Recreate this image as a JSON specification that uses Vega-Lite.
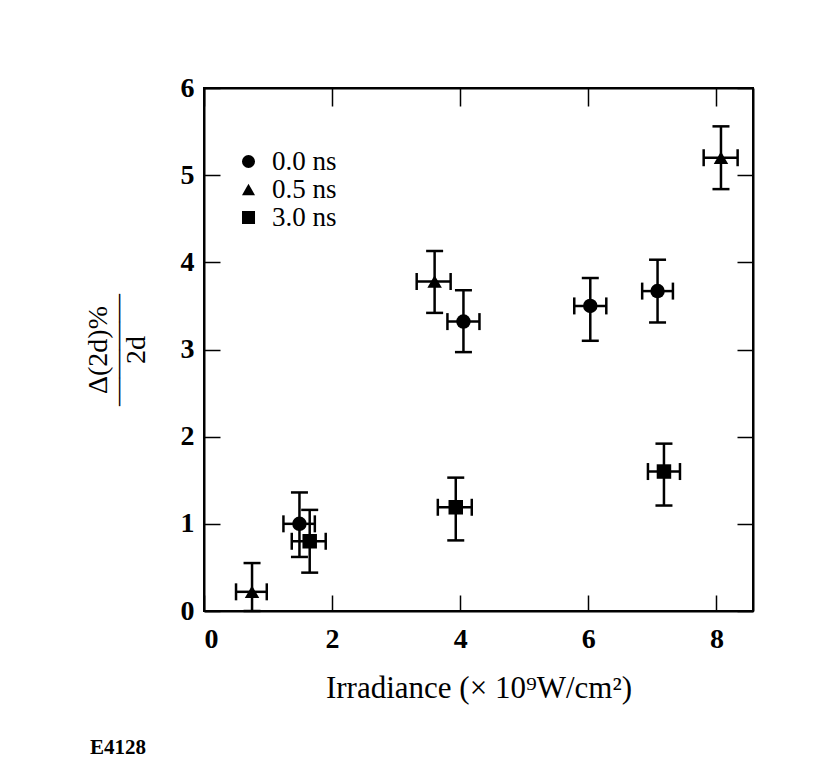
{
  "$schema": "https://vega.github.io/schema/vega-lite/v6.json",
  "width": 549,
  "height": 523,
  "autosize": {"type": "none"},
  "padding": {"left": 204, "top": 88, "right": 75, "bottom": 172},
  "background": "white",
  "title": {
    "text": "E4128",
    "orient": "bottom",
    "anchor": "start",
    "frame": "bounds",
    "font": "Liberation Serif",
    "fontSize": 21,
    "fontWeight": "bold",
    "color": "black",
    "offset": 34,
    "dx": 6
  },
  "config": {
    "view": {"stroke": "black", "strokeWidth": 2},
    "axis": {
      "grid": false,
      "labelFont": "Liberation Serif",
      "labelFontSize": 28,
      "labelFontWeight": "bold",
      "labelColor": "black",
      "titleFont": "Liberation Serif",
      "titleFontSize": 28,
      "titleFontWeight": "normal",
      "titleColor": "black",
      "domainColor": "black",
      "domainWidth": 2,
      "tickColor": "black",
      "tickWidth": 1.5,
      "tickSize": -16
    }
  },
  "data": {
    "values": [
      {"series": "0.5 ns", "x": 0.75, "y": 0.22, "xlo": 0.50, "xhi": 0.98, "ylo": 0.0, "yhi": 0.55},
      {"series": "0.0 ns", "x": 1.49, "y": 1.0, "xlo": 1.24, "xhi": 1.73, "ylo": 0.62, "yhi": 1.36},
      {"series": "3.0 ns", "x": 1.65, "y": 0.80, "xlo": 1.37, "xhi": 1.90, "ylo": 0.44, "yhi": 1.16},
      {"series": "0.5 ns", "x": 3.60, "y": 3.78, "xlo": 3.32, "xhi": 3.85, "ylo": 3.42, "yhi": 4.13},
      {"series": "0.0 ns", "x": 4.05, "y": 3.32, "xlo": 3.80, "xhi": 4.30, "ylo": 2.97, "yhi": 3.68},
      {"series": "0.0 ns", "x": 6.03, "y": 3.50, "xlo": 5.78, "xhi": 6.28, "ylo": 3.10, "yhi": 3.82},
      {"series": "0.0 ns", "x": 7.08, "y": 3.67, "xlo": 6.84, "xhi": 7.32, "ylo": 3.31, "yhi": 4.03},
      {"series": "0.5 ns", "x": 8.07, "y": 5.20, "xlo": 7.80, "xhi": 8.33, "ylo": 4.84, "yhi": 5.56},
      {"series": "3.0 ns", "x": 3.93, "y": 1.19, "xlo": 3.65, "xhi": 4.18, "ylo": 0.81, "yhi": 1.53},
      {"series": "3.0 ns", "x": 7.18, "y": 1.60, "xlo": 6.93, "xhi": 7.43, "ylo": 1.21, "yhi": 1.92}
    ]
  },
  "layer": [
    {
      "mark": {"type": "errorbar", "color": "black", "opacity": 1, "ticks": {"size": 17, "thickness": 2.5, "color": "black", "opacity": 1}, "rule": {"strokeWidth": 2.5, "color": "black", "opacity": 1}},
      "encoding": {
        "x": {"field": "x", "type": "quantitative", "scale": {"domain": [0, 8.57], "nice": false, "zero": false},
          "axis": {"orient": "bottom", "values": [0, 2, 4, 6, 8], "title": "Irradiance (× 10⁹W/cm²)", "titleColor": "black", "titleFontSize": 31, "labelPadding": 30, "titlePadding": 20}},
        "y": {"field": "ylo", "type": "quantitative", "scale": {"domain": [0, 6], "nice": false},
          "axis": {"orient": "left", "values": [0, 1, 2, 3, 4, 5, 6], "title": ["Δ(2d)%", "————", "2d"], "titleColor": "black", "titleLineHeight": 19, "labelPadding": 26, "titlePadding": 30}},
        "y2": {"field": "yhi"}
      }
    },
    {
      "mark": {"type": "errorbar", "color": "black", "opacity": 1, "ticks": {"size": 17, "thickness": 2.5, "color": "black", "opacity": 1}, "rule": {"strokeWidth": 2.5, "color": "black", "opacity": 1}},
      "encoding": {
        "y": {"field": "y", "type": "quantitative",
          "axis": {"orient": "right", "values": [0, 1, 2, 3, 4, 5, 6], "labels": false, "title": null}},
        "x": {"field": "xlo", "type": "quantitative",
          "axis": {"orient": "top", "values": [0, 2, 4, 6, 8], "labels": false, "title": null, "tickSize": -18}},
        "x2": {"field": "xhi"}
      }
    },
    {
      "mark": {"type": "point", "filled": true, "opacity": 1, "color": "black"},
      "encoding": {
        "x": {"field": "x", "type": "quantitative", "axis": null},
        "y": {"field": "y", "type": "quantitative", "axis": null},
        "shape": {"field": "series", "type": "nominal",
          "scale": {"domain": ["0.0 ns", "0.5 ns", "3.0 ns"], "range": ["circle", "triangle-up", "square"]},
          "legend": {
            "orient": "none", "legendX": 31, "legendY": 60, "title": null,
            "labelFont": "Liberation Serif", "labelFontSize": 27, "labelColor": "black",
            "symbolSize": 170, "symbolFillColor": "black", "symbolStrokeColor": "black", "symbolOpacity": 1,
            "symbolType": "circle", "rowPadding": 0, "labelOffset": 10
          }},
        "size": {"value": 210}
      }
    }
  ],
  "resolve": {"axis": {"x": "independent", "y": "independent"}}
}
